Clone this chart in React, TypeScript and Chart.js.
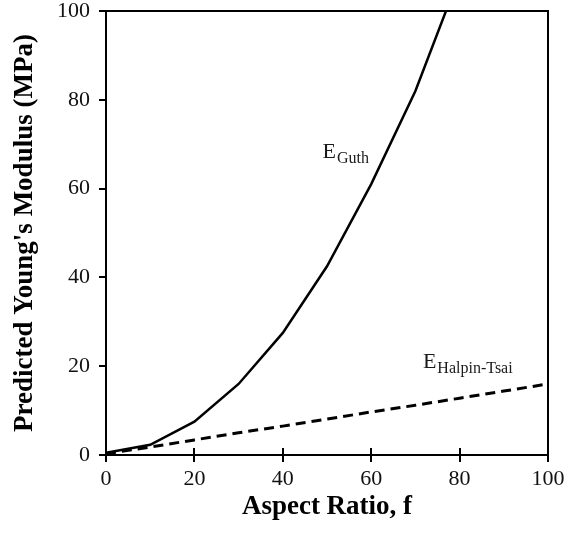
import React, { useEffect, useRef } from "react";
import { Chart, registerables } from "chart.js";

Chart.register(...registerables);

// ---- data ----
const axisMin = 0;
const axisMax = 100;
const tickStep = 20;

const guthX = [0, 10, 20, 30, 40, 50, 60, 70, 80];
const guthY = [0.5, 2.3, 7.5, 16, 27.5, 42.5, 61, 82, 108];

const halpinX = [0, 10, 20, 30, 40, 50, 60, 70, 80, 90, 100];
const halpinY = [0.3, 1.8, 3.4, 5.0, 6.5, 8.1, 9.7, 11.2, 12.8, 14.4, 16.0];

const seriesNames = ["E_Guth", "E_Halpin-Tsai"];
const annotMain = ["E", "E"];
const annotSub = ["Guth", "Halpin-Tsai"];
const annotX = [49, 71.7];
const annotY = [67, 19.6];

const xTitle = "Aspect Ratio, f";
const yTitle = "Predicted Young's Modulus (MPa)";

const FONT = '"Liberation Serif", "Times New Roman", serif';

const frameAndTicks = {
  id: "frameAndTicks",
  afterDatasetsDraw(chart: any) {
    const { ctx, chartArea, scales } = chart;
    const { left, right, top, bottom } = chartArea;
    ctx.save();
    ctx.strokeStyle = "#000";
    ctx.lineWidth = 2;
    // top and right frame
    ctx.beginPath();
    ctx.moveTo(left, top);
    ctx.lineTo(right, top);
    ctx.lineTo(right, bottom);
    ctx.stroke();
    // inward x ticks
    const xs = scales.x;
    xs.ticks.forEach((t: any) => {
      const px = Math.round(xs.getPixelForValue(t.value));
      ctx.beginPath();
      ctx.moveTo(px, bottom);
      ctx.lineTo(px, bottom - 7);
      ctx.stroke();
    });
    // annotations
    ctx.fillStyle = "#1a1a1a";
    ctx.textBaseline = "alphabetic";
    ctx.textAlign = "left";
    for (let i = 0; i < annotMain.length; i++) {
      const px = scales.x.getPixelForValue(annotX[i]);
      const py = scales.y.getPixelForValue(annotY[i]);
      ctx.font = `22px ${FONT}`;
      ctx.fillText(annotMain[i], px, py);
      const w = ctx.measureText(annotMain[i]).width;
      ctx.font = `16px ${FONT}`;
      ctx.fillText(annotSub[i], px + w + 1, py + 5);
    }
    ctx.restore();
  },
};

export default function App() {
  const ref = useRef<HTMLCanvasElement | null>(null);

  useEffect(() => {
    if (!ref.current) return;
    const chart = new Chart(ref.current, {
      type: "line",
      data: {
        datasets: [
          {
            label: seriesNames[0],
            data: guthX.map((x, i) => ({ x, y: guthY[i] })),
            borderColor: "#000",
            borderWidth: 2.5,
            pointRadius: 0,
            tension: 0,
            fill: false,
          },
          {
            label: seriesNames[1],
            data: halpinX.map((x, i) => ({ x, y: halpinY[i] })),
            borderColor: "#000",
            borderWidth: 3,
            borderDash: [10, 6],
            pointRadius: 0,
            tension: 0,
            fill: false,
          },
        ],
      },
      options: {
        responsive: false,
        animation: false,
        devicePixelRatio: 1,
        layout: { padding: { left: 0, top: 11, right: 18, bottom: 0 } },
        plugins: {
          legend: { display: false },
          tooltip: { enabled: false },
        },
        scales: {
          x: {
            type: "linear",
            min: axisMin,
            max: axisMax,
            afterFit: (s: any) => {
              s.height = 80;
              s.paddingLeft = 0;
              s.paddingRight = 0;
            },
            ticks: {
              stepSize: tickStep,
              color: "#111",
              font: { family: FONT, size: 22, lineHeight: 1.0 },
              padding: 6,
              maxRotation: 0,
            },
            grid: {
              drawOnChartArea: false,
              drawTicks: true,
              tickLength: 7,
              color: "#000",
              lineWidth: 2,
            },
            border: { display: true, color: "#000", width: 2 },
            title: {
              display: true,
              text: xTitle,
              color: "#000",
              font: { family: FONT, size: 27, weight: "bold" },
              padding: { top: 0, bottom: 12 },
            },
          },
          y: {
            type: "linear",
            min: axisMin,
            max: axisMax,
            afterFit: (s: any) => {
              s.width = 106;
              s.paddingTop = 0;
              s.paddingBottom = 0;
            },
            ticks: {
              stepSize: tickStep,
              color: "#111",
              font: { family: FONT, size: 22, lineHeight: 1.0 },
              padding: 9,
            },
            grid: {
              drawOnChartArea: false,
              drawTicks: true,
              tickLength: 7,
              color: "#000",
              lineWidth: 2,
            },
            border: { display: true, color: "#000", width: 2 },
            title: {
              display: true,
              text: yTitle,
              color: "#000",
              font: { family: FONT, size: 27, weight: "bold" },
              padding: { top: 9, bottom: 0 },
            },
          },
        },
      },
      plugins: [frameAndTicks],
    });
    return () => chart.destroy();
  }, []);

  return (
    <div
      style={{
        position: "absolute",
        left: 0,
        top: 0,
        width: 566,
        height: 535,
        background: "#fff",
      }}
    >
      <canvas ref={ref} width={566} height={535} style={{ display: "block" }} />
    </div>
  );
}
